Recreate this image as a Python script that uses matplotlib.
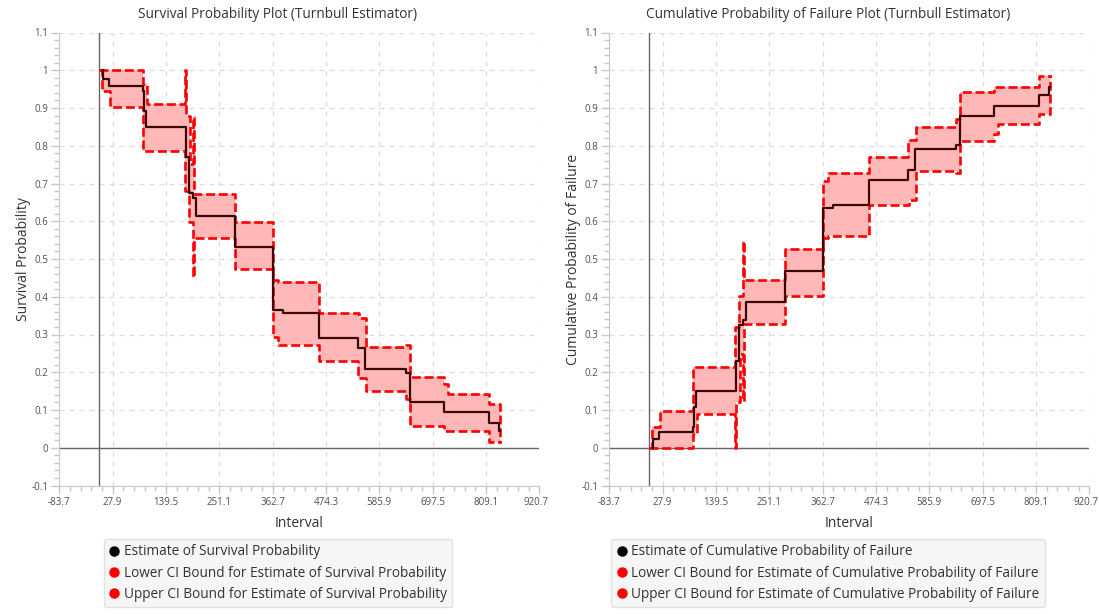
import numpy as np
import matplotlib.pyplot as plt
import matplotlib.transforms as mtransforms
from matplotlib.lines import Line2D
from matplotlib.ticker import AutoMinorLocator

plt.rcParams['font.family'] = ['Open Sans', 'DejaVu Sans']

# survival plot data (step changes: interval start, value)
surv_x = [7, 8.4, 20, 90.5, 94, 98.4, 181, 188.3, 196.7, 201.6, 283.9, 363, 384,
          459, 540.6, 556.6, 641.7, 650, 722, 816, 835.6, 838]
surv_est = [1.0, 0.976, 0.959, 0.945, 0.891, 0.849, 0.770, 0.676, 0.662, 0.613, 0.533, 0.365, 0.358,
            0.291, 0.264, 0.208, 0.198, 0.122, 0.094, 0.066, 0.044, 0.044]

surv_up_x = [0, 92, 99, 180, 182, 189, 196, 198.5, 284, 363, 373, 459, 544, 558,
             642, 650, 722, 729, 816, 838]
surv_up = [1.0, 0.963, 0.910, 1.0, 0.880, 0.752, 0.875, 0.672, 0.597, 0.445, 0.440, 0.356, 0.343, 0.266,
           0.273, 0.188, 0.170, 0.1425, 0.117, 0.013]

surv_lo_x = [0, 5.6, 22.4, 92, 180, 188, 197, 199, 284, 363, 373, 459, 541, 558,
             642, 650, 722, 816, 838]
surv_lo = [1.0, 0.945, 0.903, 0.787, 0.680, 0.598, 0.453, 0.555, 0.473, 0.293, 0.273, 0.230, 0.186, 0.150,
           0.128, 0.057, 0.044, 0.015, 0.013]

# cumulative failure plot data
fail_x = surv_x
fail_est = [0.0, 0.024, 0.041, 0.055, 0.109, 0.151, 0.230, 0.324, 0.338, 0.387, 0.467, 0.635, 0.642,
            0.709, 0.736, 0.792, 0.802, 0.878, 0.906, 0.934, 0.956, 0.956]

fail_lo_x = surv_up_x
fail_lo = [0.0, 0.037, 0.090, 0.0, 0.120, 0.248, 0.125, 0.328, 0.403, 0.555, 0.560, 0.644, 0.657, 0.734,
           0.727, 0.812, 0.830, 0.8575, 0.883, 0.987]

fail_up_x = surv_lo_x
fail_up = [0.0, 0.055, 0.097, 0.213, 0.320, 0.402, 0.547, 0.445, 0.527, 0.707, 0.727, 0.770, 0.814, 0.850,
           0.872, 0.943, 0.956, 0.985, 0.987]

xticks = np.arange(-83.7, 920.8, 111.6)
yticks = np.arange(-0.1, 1.11, 0.1)

fig = plt.figure(figsize=(10.99, 6.14), dpi=100)
ax1 = fig.add_axes([59.3 / 1099, 1 - 485.5 / 614, 480 / 1099, 453 / 614])
ax2 = fig.add_axes([609.3 / 1099, 1 - 485.5 / 614, 480 / 1099, 453 / 614])


def step_at(xs, ys, grid):
    idx = np.searchsorted(xs, grid, side='right') - 1
    return np.asarray(ys)[np.clip(idx, 0, len(ys) - 1)]


def draw(ax, ex, ey, lx, ly, ux, uy, title, ylabel, labels, cx):
    grid = np.union1d(lx, ux)
    ax.fill_between(grid, step_at(lx, ly, grid), step_at(ux, uy, grid), step='post',
                    color='#ffb8b8', lw=0, zorder=2)
    ax.step(lx, ly, where='post', color='#ff0000', lw=1.9, ls=(0, (3.4, 1.4)), zorder=3)
    ax.step(ux, uy, where='post', color='#ff0000', lw=1.9, ls=(0, (3.4, 1.4)), zorder=3)
    ax.step(ex, ey, where='post', color='#3d0606', lw=1.6, zorder=4)

    ax.axhline(0, color='#666666', lw=1, zorder=1)
    ax.axvline(0, color='#666666', lw=1, zorder=1)

    ax.set_xlim(-83.7, 920.7)
    ax.set_ylim(-0.1, 1.1)
    ax.set_xticks(xticks)
    ax.set_xticklabels(['%.1f' % t for t in xticks])
    ax.set_yticks(yticks)
    ax.set_yticklabels(['%g' % round(t, 1) for t in yticks])
    ax.xaxis.set_minor_locator(AutoMinorLocator(5))
    ax.yaxis.set_minor_locator(AutoMinorLocator(5))
    ax.grid(True, which='major', color='#dddddd', ls=(0, (4, 4)), lw=0.9, zorder=0)
    ax.set_axisbelow(True)
    for s in ['top', 'right']:
        ax.spines[s].set_visible(False)
    for s in ['left', 'bottom']:
        ax.spines[s].set_color('#c8c8c8')
    ax.tick_params(which='major', length=6, color='#c8c8c8', labelsize=7,
                   labelcolor='#505050', width=1, pad=2)
    ax.tick_params(which='minor', length=3.5, color='#c8c8c8', width=1)
    # last x tick label sits on the figure edge, nudge it in a little
    last = ax.get_xticklabels()[-1]
    last.set_transform(last.get_transform() +
                       mtransforms.ScaledTranslation(-3 / 100, 0, fig.dpi_scale_trans))

    ax.set_xlabel('Interval', fontsize=10, color='#333333', labelpad=6)
    ax.set_ylabel(ylabel, fontsize=10, color='#333333')
    ax.yaxis.set_label_coords(-0.058, 0.5)
    fig.text(cx / 1099, 1 - 14 / 614, title, ha='center', va='center',
             fontsize=9.8, color='#333333')

    handles = [Line2D([], [], marker='o', ls='none', color=c, markersize=6.5)
               for c in ['black', 'red', 'red']]
    leg = ax.legend(handles, labels, loc='upper center',
                    bbox_to_anchor=(cx / 1099, 1 - 539 / 614), bbox_transform=fig.transFigure,
                    fontsize=9.8, frameon=True, fancybox=True, handletextpad=0.3,
                    handlelength=0.8, labelspacing=0.45, borderpad=0.4, borderaxespad=0)
    leg.get_frame().set_facecolor('#f4f4f4')
    leg.get_frame().set_edgecolor('#dcdcdc')
    for t in leg.get_texts():
        t.set_color('#333333')


draw(ax1, surv_x, surv_est, surv_lo_x, surv_lo, surv_up_x, surv_up,
     'Survival Probability Plot (Turnbull Estimator)', 'Survival Probability',
     ['Estimate of Survival Probability',
      'Lower CI Bound for Estimate of Survival Probability',
      'Upper CI Bound for Estimate of Survival Probability'], 278)

draw(ax2, fail_x, fail_est, fail_lo_x, fail_lo, fail_up_x, fail_up,
     'Cumulative Probability of Failure Plot (Turnbull Estimator)', 'Cumulative Probability of Failure',
     ['Estimate of Cumulative Probability of Failure',
      'Lower CI Bound for Estimate of Cumulative Probability of Failure',
      'Upper CI Bound for Estimate of Cumulative Probability of Failure'], 828)

fig.savefig('out.png', dpi=100, facecolor='white')
